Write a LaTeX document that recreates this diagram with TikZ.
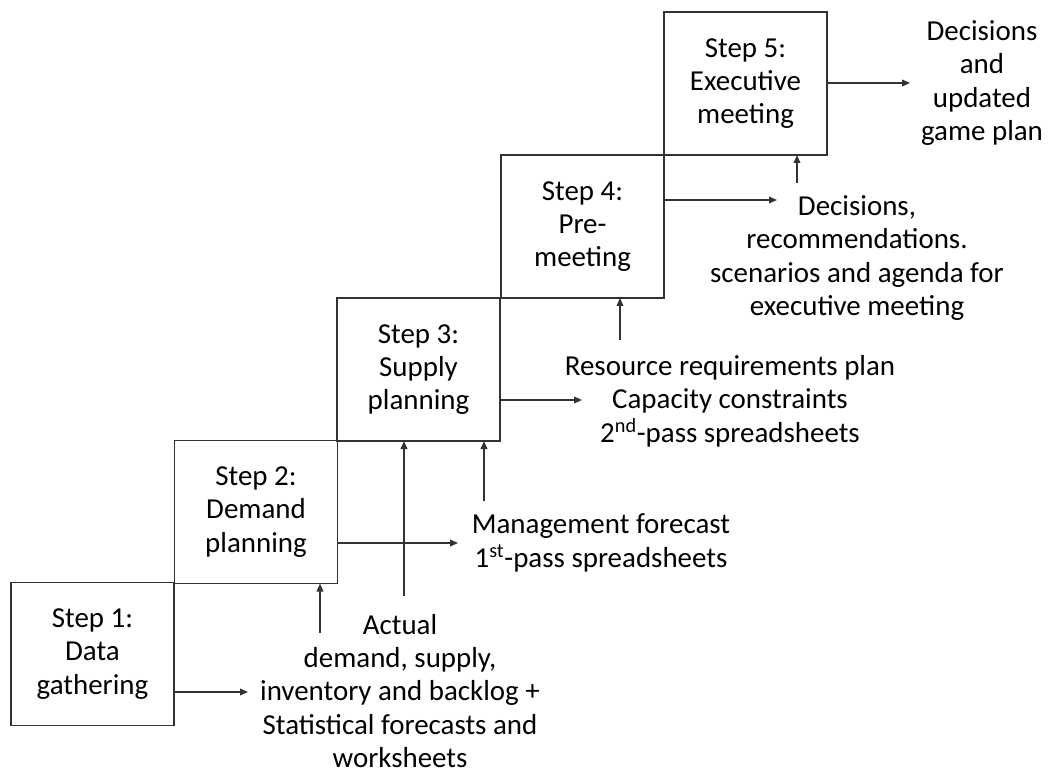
\documentclass[tikz,border=0pt]{standalone}
\usepackage{fontspec}
\setmainfont{Carlito}
\usetikzlibrary{arrows.meta}
\begin{document}
\begin{tikzpicture}[x=0.75pt,y=-0.75pt,
  font=\fontsize{21.7}{25}\selectfont,
  stepbox/.style={draw=black!80,line width=1.1pt,minimum width=163*0.75pt,
    minimum height=143*0.75pt,inner sep=0pt,outer sep=0pt,align=center,
    text=black},
  label/.style={align=center,inner sep=0pt,text=black},
  arr/.style={draw=black!80,line width=1.1pt,-{Triangle[length=6pt,width=5pt]}}]
\useasboundingbox (0,0) rectangle (1049,773);

% the five steps, climbing to the upper right
\node[stepbox] (b1) at (92.5,654)  {Step 1:\\Data\\gathering};
\node[stepbox] (b2) at (256,512)   {Step 2:\\Demand\\planning};
\node[stepbox] (b3) at (418.5,369.5) {Step 3:\\Supply\\planning};
\node[stepbox] (b4) at (582.5,226.5) {Step 4:\\Pre-\\meeting};
\node[stepbox] (b5) at (745.5,83.5)  {Step 5:\\Executive\\meeting};

% outputs of each step
\node[label] (t1) at (400,691) {Actual\\demand, supply,\\inventory and backlog +\\Statistical forecasts and\\worksheets};
\node[label] (t2) at (601,543) {Management forecast\\1\textsuperscript{st}-pass spreadsheets};
\node[label] (t3) at (730,401) {Resource requirements plan\\Capacity constraints\\2\textsuperscript{nd}-pass spreadsheets};
\node[label] (t4) at (857,258) {Decisions,\\recommendations.\\scenarios and agenda for\\executive meeting};
\node[label] (t5) at (982,83) {Decisions\\and\\updated\\game plan};

% arrow tips of the outgoing arrows
\coordinate (h1) at (248,692);
\coordinate (h2) at (458,543);
\coordinate (h3) at (582,400);
\coordinate (h4) at (777,200);
\coordinate (h5) at (910,83);

% feet of the incoming arrows
\coordinate (v1) at (320,633);
\coordinate (v2) at (404,596);
\coordinate (v3) at (484,501);
\coordinate (v4) at (620,340);
\coordinate (v5) at (797,183);

\draw[arr] (b1.east |- h1) -- (h1);
\draw[arr] (b2.east |- h2) -- (h2);
\draw[arr] (b3.east |- h3) -- (h3);
\draw[arr] (b4.east |- h4) -- (h4);
\draw[arr] (b5.east |- h5) -- (h5);

\draw[arr] (v1) -- (v1 |- b2.south);
\draw[arr] (v2) -- (v2 |- b3.south);
\draw[arr] (v3) -- (v3 |- b3.south);
\draw[arr] (v4) -- (v4 |- b4.south);
\draw[arr] (v5) -- (v5 |- b5.south);
\end{tikzpicture}
\end{document}
